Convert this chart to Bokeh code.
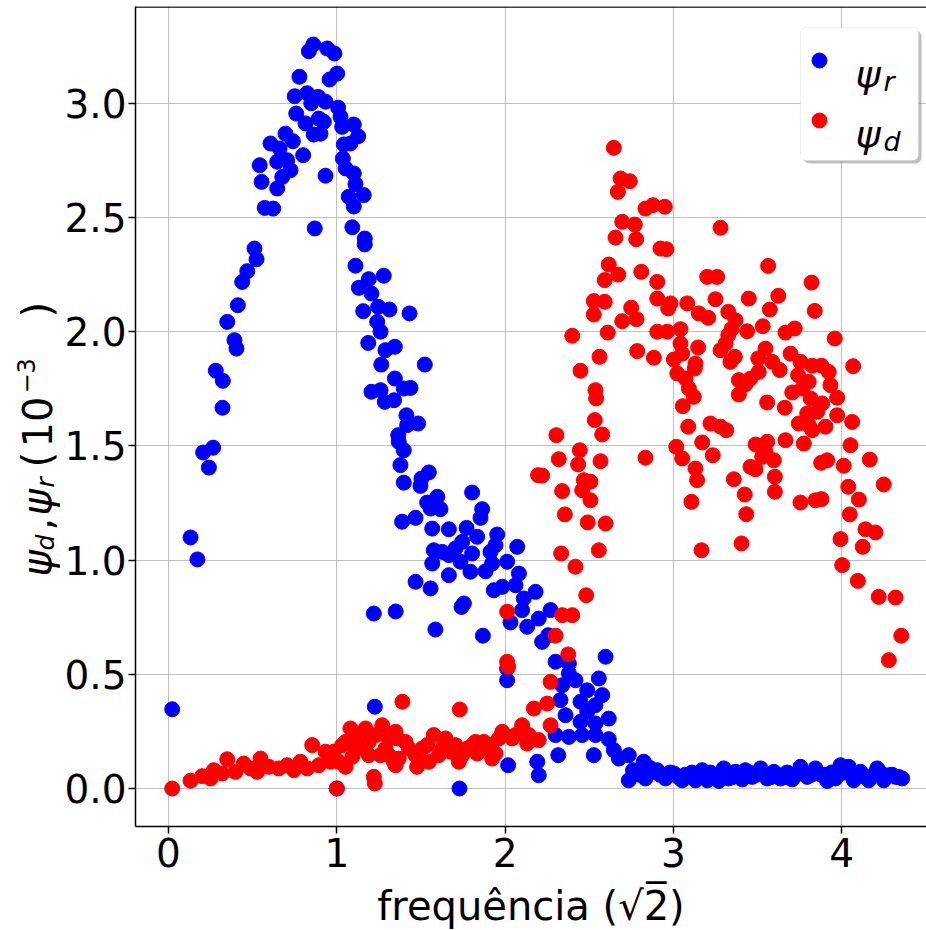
import math
from bokeh.plotting import figure
from bokeh.layouts import row
from bokeh.models import (Range1d, FixedTicker, PrintfTickFormatter, Label,
                          BoxAnnotation, Span)
from bokeh.core.properties import value
from bokeh.embed import file_html
from bokeh.resources import INLINE

# ---------------- data ----------------
blue_x = [0.860, 0.834, 0.943, 0.986, 0.778, 1.002, 0.957, 0.750, 0.824, 0.848, 0.889, 0.933, 1.008, 0.759,
          0.814, 0.893, 0.923, 1.022, 1.032, 1.101, 1.127, 0.863, 0.903, 0.695, 0.739, 0.606, 0.660, 0.800,
          1.042, 1.081, 1.036, 0.542, 0.646, 0.705, 0.725, 0.933, 1.052, 1.101, 1.111, 0.553, 0.676, 0.646,
          1.071, 1.160, 1.101, 0.572, 0.622, 0.869, 1.092, 1.166, 0.511, 0.523, 1.166, 1.111, 0.468, 0.438,
          1.190, 1.279,
          0.412, 0.349, 0.392, 0.404, 0.281, 0.323, 0.321, 0.265, 0.206, 0.240, 0.131, 0.172,
          1.131, 1.206, 1.157, 1.246, 1.313, 1.240, 1.260, 1.187, 1.289, 1.345, 1.264, 1.345, 1.206, 1.260,
          1.285, 1.340,
          1.432, 1.523, 1.438, 1.398, 1.414, 1.483, 1.418, 1.365, 1.368, 1.398, 1.378, 1.547, 1.503, 1.398,
          1.497, 1.804, 1.597, 1.537, 1.616, 1.864, 1.854, 1.557, 1.388, 1.468, 1.567, 1.666, 1.771, 1.953,
          1.834, 1.745, 2.072, 1.943, 1.576, 1.705, 1.626, 1.666, 1.804, 1.913,
          1.567, 1.735, 1.923, 2.012, 1.666, 1.794, 1.884, 2.082, 1.468, 1.557, 1.933, 1.983, 2.062, 2.181,
          2.111, 1.350, 1.755, 1.741, 2.101, 2.200, 2.270, 1.586, 2.032, 2.131, 1.868, 2.220, 2.256, 2.597,
          2.300, 2.379, 2.012, 2.012, 2.379, 2.418, 2.557, 2.339, 2.488, 2.577, 2.329, 2.448, 2.537, 2.359,
          2.488, 2.616, 2.448, 2.537, 2.300, 2.379, 2.458, 2.537, 2.616, 2.316, 2.527, 2.646, 2.676, 2.735,
          2.735, 2.824, 2.834, 2.894, 2.018, 2.191, 2.200, 1.729,
          0.022, 1.220, 1.226, 1.000,
          2.760, 2.800, 2.860,
          2.904, 2.953, 3.003, 3.052, 3.092, 3.131, 3.171, 3.201, 3.240, 3.270, 3.299, 3.329, 3.369, 3.409,
          3.428, 3.468, 3.518, 3.557, 3.597, 3.636, 3.676, 3.706, 3.755, 3.795, 3.844, 3.884, 3.914, 3.963,
          3.993, 4.042, 4.072, 4.112, 4.161, 4.211, 4.250, 4.280, 4.320, 4.359,
          2.920, 2.980, 3.030, 3.070, 3.110, 3.150, 3.190, 3.220, 3.260, 3.310, 3.350, 3.390, 3.450, 3.490,
          3.540, 3.580, 3.620, 3.660, 3.730, 3.770, 3.820, 3.860, 3.900, 3.940, 3.980, 4.020, 4.090, 4.140,
          4.190, 4.230, 4.300, 4.340]
blue_y = [3.257, 3.228, 3.240, 3.218, 3.116, 3.130, 3.104, 3.031, 3.044, 3.000, 3.028, 3.007, 2.981, 2.955,
          2.912, 2.933, 2.919, 2.941, 2.897, 2.907, 2.856, 2.863, 2.867, 2.867, 2.834, 2.824, 2.802, 2.773,
          2.820, 2.824, 2.758, 2.729, 2.744, 2.751, 2.707, 2.683, 2.715, 2.693, 2.646, 2.656, 2.678, 2.627,
          2.591, 2.598, 2.548, 2.542, 2.539, 2.452, 2.457, 2.408, 2.364, 2.317, 2.382, 2.289, 2.265, 2.218,
          2.230, 2.245,
          2.116, 2.043, 1.963, 1.926, 1.829, 1.785, 1.667, 1.492, 1.471, 1.405, 1.099, 1.003,
          2.192, 2.167, 2.090, 2.109, 2.097, 2.043, 2.000, 1.951, 1.919, 1.934, 1.856, 1.795, 1.737, 1.744,
          1.693, 1.700,
          2.080, 1.856, 1.754, 1.751, 1.634, 1.598, 1.591, 1.547, 1.518, 1.481, 1.416, 1.384, 1.357, 1.339,
          1.325, 1.296, 1.277, 1.252, 1.223, 1.223, 1.185, 1.226, 1.168, 1.185, 1.138, 1.135, 1.141, 1.112,
          1.102, 1.080, 1.058, 1.065, 1.043, 1.051, 1.036, 1.022, 1.029, 1.036,
          0.985, 0.993, 0.985, 0.993, 0.934, 0.949, 0.951, 0.941, 0.905, 0.876, 0.868, 0.883, 0.890, 0.861,
          0.832, 0.775, 0.810, 0.795, 0.781, 0.744, 0.781, 0.696, 0.727, 0.708, 0.669, 0.642, 0.671, 0.577,
          0.555, 0.547, 0.525, 0.474, 0.504, 0.474, 0.482, 0.452, 0.430, 0.409, 0.387, 0.380, 0.365, 0.321,
          0.336, 0.306, 0.292, 0.285, 0.234, 0.226, 0.234, 0.234, 0.216, 0.146, 0.146, 0.168, 0.131, 0.146,
          0.036, 0.117, 0.044, 0.073, 0.102, 0.117, 0.058, 0.000,
          0.347, 0.766, 0.358, 0.000,
          0.080, 0.060, 0.090,
          0.080, 0.044, 0.066, 0.036, 0.058, 0.036, 0.080, 0.036, 0.058, 0.033, 0.088, 0.044, 0.073, 0.040,
          0.080, 0.051, 0.088, 0.044, 0.073, 0.044, 0.070, 0.040, 0.095, 0.051, 0.088, 0.058, 0.033, 0.044,
          0.102, 0.095, 0.036, 0.073, 0.036, 0.088, 0.036, 0.058, 0.051, 0.044,
          0.060, 0.070, 0.050, 0.060, 0.070, 0.050, 0.060, 0.070, 0.050, 0.060, 0.050, 0.060, 0.070, 0.060,
          0.060, 0.050, 0.060, 0.050, 0.060, 0.070, 0.060, 0.070, 0.060, 0.070, 0.060, 0.070, 0.060, 0.050,
          0.060, 0.070, 0.060, 0.050]

red_x = [0.022, 0.131, 0.200, 0.250, 0.269, 0.319, 0.349, 0.398, 0.447, 0.487, 0.527, 0.547, 0.596, 0.655,
         0.705, 0.745, 0.784, 0.824, 0.854, 0.893, 0.933, 0.963, 1.000, 1.032, 1.052, 1.081, 1.111, 1.171,
         1.190, 1.220, 1.226, 1.270, 1.289, 1.339, 1.390, 1.359,
         1.052, 1.111, 1.151, 1.230, 1.260, 1.309, 1.349, 1.092, 1.309, 1.190, 0.982, 1.012,
         1.349, 1.428, 1.477, 1.507, 1.576, 1.606, 1.646, 1.676, 1.725, 1.731, 1.775, 1.834, 1.874, 1.943,
         1.983, 2.012, 2.012, 2.018, 2.042, 2.101, 2.131, 2.200, 2.171, 2.250, 2.270, 2.270, 2.300, 2.375,
         2.339, 2.399, 2.482, 2.418, 2.333, 2.557,
         1.408, 1.468, 1.537, 1.547, 1.626, 1.705, 1.804, 1.864, 1.903, 1.963, 2.062, 2.141, 1.368, 1.745,
         1.824, 1.923,
         2.399, 2.448, 2.561, 2.537, 2.541, 2.533, 2.577, 2.305, 2.444, 2.834, 2.319, 2.434, 2.567, 2.196,
         2.468, 2.507, 2.339, 2.458, 2.507, 2.355, 2.491, 2.597, 2.220,
         2.527, 2.592, 2.527, 2.749, 2.696, 2.781, 2.610, 2.785, 2.884, 2.592, 2.904, 2.904, 2.904,
         2.646, 2.686, 2.741, 2.670, 2.834, 2.878, 2.696, 2.771, 2.656, 2.779, 2.923, 2.616, 2.672, 2.809,
         2.949, 3.280, 2.959, 3.563, 3.201, 3.260, 3.821,
         2.983, 2.969, 3.082, 3.250, 3.448, 3.623, 3.840, 3.151, 3.207, 3.326, 3.573, 2.963, 3.042, 3.369,
         3.438, 3.531, 3.666, 3.721, 3.959, 3.345, 3.326, 3.042, 3.147, 3.310, 3.280, 3.547, 3.003, 3.052,
         3.131, 3.365, 3.339, 3.504, 3.587, 3.696, 3.755, 3.825, 3.880, 4.068, 3.023, 3.127, 3.632, 3.923,
         3.507, 3.741, 3.072, 3.389, 3.458, 3.804, 3.933, 3.428, 3.092, 3.765, 3.121, 3.389, 3.706, 3.815,
         3.973, 3.557, 3.662, 3.056, 3.884, 3.795, 3.854, 3.973, 4.062, 3.220, 3.280, 3.314, 3.745, 3.088,
         3.804, 3.904, 3.825, 3.171, 3.017, 3.488, 3.557, 3.666, 3.775, 4.052, 3.052, 3.234, 3.547, 3.597,
         3.528, 3.458, 3.488, 3.878, 3.914, 4.012, 4.167, 3.131, 3.141, 3.359, 3.603, 4.039, 4.250, 3.424,
         3.603, 4.102, 3.107, 3.755, 3.844, 3.880, 3.433, 4.048, 4.141, 4.201, 3.405, 3.993, 4.125, 3.167,
         4.003, 4.096, 4.220, 4.320, 4.354, 4.280]
red_y = [0.000, 0.034, 0.054, 0.044, 0.080, 0.066, 0.128, 0.073, 0.109, 0.088, 0.073, 0.131, 0.095, 0.088,
         0.102, 0.080, 0.117, 0.088, 0.190, 0.102, 0.161, 0.117, 0.000, 0.190, 0.095, 0.263, 0.175, 0.263,
         0.146, 0.051, 0.022, 0.277, 0.175, 0.117, 0.380, 0.219,
         0.204, 0.234, 0.175, 0.234, 0.146, 0.219, 0.102, 0.139, 0.146, 0.204, 0.161, 0.117,
         0.248, 0.175, 0.095, 0.175, 0.234, 0.146, 0.219, 0.161, 0.117, 0.346, 0.175, 0.153, 0.204, 0.153,
         0.248, 0.774, 0.555, 0.533, 0.219, 0.277, 0.197, 0.212, 0.350, 0.372, 0.277, 0.467, 0.669, 0.587,
         0.759, 0.759, 0.846, 0.971, 1.029, 1.043,
         0.204, 0.146, 0.190, 0.117, 0.175, 0.190, 0.190, 0.175, 0.190, 0.219, 0.234, 0.234, 0.131, 0.146,
         0.204, 0.131,
         1.982, 1.829, 1.890, 1.744, 1.708, 1.613, 1.550, 1.547, 1.481, 1.448, 1.442, 1.419, 1.433, 1.372,
         1.350, 1.343, 1.302, 1.306, 1.262, 1.200, 1.165, 1.160, 1.370,
         2.134, 2.131, 2.075, 2.105, 2.046, 2.055, 1.996, 1.915, 1.886, 2.226, 2.218, 2.145, 2.000,
         2.805, 2.671, 2.659, 2.612, 2.539, 2.554, 2.481, 2.469, 2.412, 2.405, 2.364, 2.294, 2.250, 2.262,
         2.547, 2.455, 2.361, 2.288, 2.240, 2.240, 2.215,
         2.124, 2.102, 2.124, 2.142, 2.145, 2.157, 2.091, 2.080, 2.061, 2.087, 2.097, 2.000, 2.011, 2.050,
         2.002, 2.024, 1.996, 2.014, 1.970, 2.011, 1.985, 1.948, 1.931, 1.948, 1.919, 1.926, 1.878, 1.904,
         1.861, 1.890, 1.868, 1.883, 1.868, 1.904, 1.868, 1.851, 1.851, 1.849, 1.817, 1.839, 1.832, 1.824,
         1.824, 1.810, 1.795, 1.788, 1.795, 1.781, 1.766, 1.769, 1.751, 1.751, 1.715, 1.725, 1.734, 1.708,
         1.711, 1.690, 1.667, 1.674, 1.686, 1.642, 1.649, 1.634, 1.605, 1.598, 1.584, 1.569, 1.598, 1.584,
         1.591, 1.584, 1.569, 1.515, 1.496, 1.506, 1.518, 1.525, 1.510, 1.503, 1.445, 1.459, 1.474, 1.437,
         1.452, 1.408, 1.398, 1.426, 1.437, 1.413, 1.440, 1.401, 1.350, 1.354, 1.365, 1.321, 1.331, 1.287,
         1.299, 1.265, 1.255, 1.252, 1.262, 1.267, 1.201, 1.200, 1.135, 1.121, 1.073, 1.092, 1.058, 1.043,
         0.978, 0.909, 0.839, 0.836, 0.669, 0.562]

x_ticks = [0, 1, 2, 3, 4]
y_ticks = [0.0, 0.5, 1.0, 1.5, 2.0, 2.5, 3.0]
x_label = "frequência (√2̅)"
legend_names = [("ψ", "r"), ("ψ", "d")]
series_colors = ["#0000ff", "#ff0000"]

# ---------------- layout helpers (page pixel -> data, for annotations) ----------------
X0_PX, X_PER = 168.0, 168.3
Y0_PX, Y_PER = 788.0, 228.4


def px2x(px):
    return (px - X0_PX) / X_PER


def px2y(py):
    return (Y0_PX - py) / Y_PER


FONT = "DejaVu Sans"
YLAB_W = 60
TOTAL_W, TOTAL_H = 926, 930

p = figure(frame_width=926 - 135, frame_height=826 - 6,
           min_border_left=135 - YLAB_W, min_border_right=0, min_border_top=6,
           min_border_bottom=TOTAL_H - 826,
           x_range=Range1d(px2x(135), px2x(926)), y_range=Range1d(px2y(826), px2y(6)),
           output_backend="svg", toolbar_location=None, background_fill_color="white",
           border_fill_color="white")
p.outline_line_color = None

# grid
p.grid.grid_line_color = "#b0b0b0"
p.grid.grid_line_alpha = 0.8
p.grid.grid_line_width = 1

# axes
for ax in (p.xaxis[0], p.yaxis[0]):
    ax.axis_line_color = "black"
    ax.axis_line_width = 1.5
    ax.major_tick_line_color = "black"
    ax.major_tick_line_width = 1.5
    ax.major_tick_in = 0
    ax.major_tick_out = 7
    ax.minor_tick_line_color = None
    ax.major_label_text_font = FONT
    ax.major_label_text_font_size = "39px"
    ax.major_label_text_color = "black"
p.xaxis.major_label_standoff = 4
p.yaxis.major_label_standoff = 2
p.xaxis.ticker = FixedTicker(ticks=x_ticks)
p.yaxis.ticker = FixedTicker(ticks=y_ticks)
p.yaxis.formatter = PrintfTickFormatter(format="%.1f")
p.xaxis.formatter = PrintfTickFormatter(format="%d")
p.xaxis.axis_label = x_label
p.xaxis.axis_label_text_font = FONT
p.xaxis.axis_label_text_font_size = "40px"
p.xaxis.axis_label_text_font_style = "normal"
p.xaxis.axis_label_text_color = "black"
p.xaxis.axis_label_standoff = 13

# top spine
p.add_layout(Span(location=px2y(6.5), dimension="width", line_color="black", line_width=1.5))

# data
p.scatter(blue_x, blue_y, size=15, fill_color=series_colors[0], line_color=series_colors[0])
p.scatter(red_x, red_y, size=15, fill_color=series_colors[1], line_color=series_colors[1])

# legend (box with shadow)
dx, dy = 3 / X_PER, 3 / Y_PER
p.add_layout(BoxAnnotation(left=px2x(800) + dx, right=px2x(918) + dx, top=px2y(27) - dy,
                           bottom=px2y(160) - dy, fill_color="#808080", fill_alpha=0.5,
                           line_color=None, border_radius=6))
p.add_layout(BoxAnnotation(left=px2x(800), right=px2x(918), top=px2y(27), bottom=px2y(160),
                           fill_color="white", fill_alpha=1.0, line_color="#cccccc",
                           line_width=1, border_radius=6))
leg_rows_py = [60, 120]
r = p.scatter([px2x(819)] * 2, [px2y(v) for v in leg_rows_py], size=15,
              fill_color=series_colors, line_color=series_colors)
r.level = "overlay"
for (main, sub), py in zip(legend_names, leg_rows_py):
    p.add_layout(Label(x=px2x(855), y=px2y(py + 13), text=main, text_font=FONT,
                       text_font_style="italic", text_font_size="38px", text_color="black",
                       text_baseline="alphabetic", text_align="left", level="overlay"))
    p.add_layout(Label(x=px2x(883), y=px2y(py + 21), text=sub, text_font=FONT,
                       text_font_style="italic", text_font_size="27px", text_color="black",
                       text_baseline="alphabetic", text_align="left", level="overlay"))

# y axis label strip (left), composed of pieces (rotated); coords = page px
ylab = figure(frame_width=YLAB_W, frame_height=TOTAL_H, x_range=Range1d(0, YLAB_W),
              y_range=Range1d(0, TOTAL_H), min_border=0, output_backend="svg",
              toolbar_location=None, background_fill_color="white", border_fill_color="white")
ylab.axis.visible = False
ylab.grid.visible = False
ylab.outline_line_color = None

ypieces_text = ["ψ", "d", ",", "ψ", "r", "(", "10", "−3", ")"]
ypieces_sy = [570, 544, 524, 509, 481, 461, 441, 387, 311]
ypieces_cx = [36, 45, 36, 36, 45, 36, 36, 25, 36]
ypieces_fs = ["40px", "25px", "40px", "40px", "25px", "40px", "40px", "24px", "40px"]
ypieces_st = ["italic", "italic", "normal", "italic", "italic", "normal", "normal", "normal", "normal"]
for t, sy, cx, fs, st in zip(ypieces_text, ypieces_sy, ypieces_cx, ypieces_fs, ypieces_st):
    ylab.text(x=[cx], y=[TOTAL_H - sy], text=[t], text_font=value(FONT), text_font_size=value(fs),
              text_font_style=st, text_color="black", angle=math.pi / 2,
              text_align="left", text_baseline="middle")

layout = row(ylab, p, spacing=0)

open("out.html", "w").write(file_html(layout, INLINE))
